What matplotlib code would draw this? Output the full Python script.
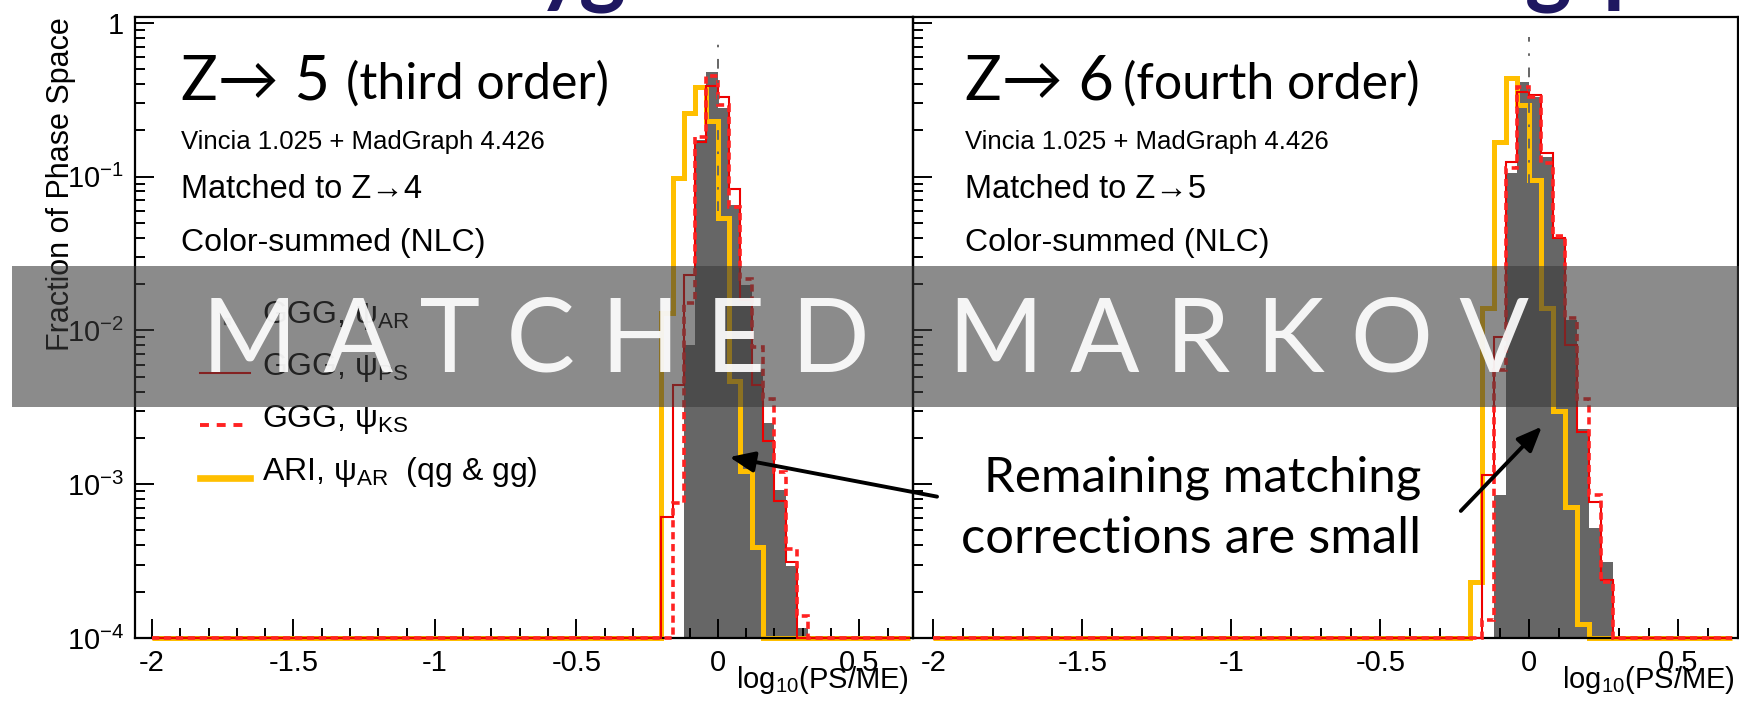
import numpy as np
import matplotlib.pyplot as plt
from matplotlib.lines import Line2D
from matplotlib.patches import Rectangle
from matplotlib.ticker import MultipleLocator, LogLocator, NullFormatter

plt.rcParams['font.family'] = ['Liberation Sans', 'DejaVu Sans']
plt.rcParams['mathtext.fontset'] = 'custom'
plt.rcParams['mathtext.rm'] = 'Liberation Sans'
plt.rcParams['mathtext.it'] = 'Liberation Sans:italic'
plt.rcParams['mathtext.default'] = 'regular'

W, H = 1739, 705

# histogram binning in log10(PS/ME)
bin_width = 0.04
hist_lo, hist_hi = -2.0, 0.68
core_lo = -0.24          # low edge of the first value in the lists below
floor = 1e-4

# Z -> 5 (third order), fraction of phase space per bin
gray_5 = [0, 0, 0, 0.0080, 0.173, 0.477, 0.278, 0.065, 0.0196, 0.0055, 0.0025, 0.00091, 0.000295, 0.000117, 0]
ps_5 = [0, 0.00061, 0.0044, 0.023, 0.169, 0.39, 0.33, 0.083, 0.0158, 0.0044, 0.0019, 0.00078, 0.00031, 0, 0]
ks_5 = [0, 0, 0.00075, 0.015, 0.18, 0.45, 0.29, 0.063, 0.0216, 0.0078, 0.0036, 0.0012, 0.00038, 0.00014, 0]
ari_5 = [0, 0.013, 0.098, 0.26, 0.38, 0.23, 0.054, 0.0047, 0.00122, 0.00039, 0, 0, 0, 0, 0]

# Z -> 6 (fourth order)
gray_6 = [0, 0, 0, 0.00085, 0.105, 0.41, 0.33, 0.134, 0.040, 0.0116, 0.0023, 0.00052, 0.00031, 0, 0]
ps_6 = [0, 0, 0.00114, 0.0091, 0.125, 0.357, 0.34, 0.143, 0.040, 0.008, 0.0022, 0.00077, 0.00024, 0, 0]
ks_6 = [0, 0, 0.00013, 0.0055, 0.114, 0.385, 0.33, 0.123, 0.041, 0.012, 0.0036, 0.00085, 0.00023, 0, 0]
ari_6 = [0, 0.00023, 0.014, 0.169, 0.44, 0.29, 0.095, 0.014, 0.0030, 0.00071, 0.000124, 0, 0, 0, 0]

x_ticks = [-2, -1.5, -1, -0.5, 0, 0.5]
x_labels = ['-2', '-1.5', '-1', '-0.5', '0', '0.5']
y_ticks = [1e-4, 1e-3, 1e-2, 1e-1, 1]
y_labels = ['$10^{-4}$', '$10^{-3}$', '$10^{-2}$', '$10^{-1}$', '1']

legend_labels = [r'GGG, $\psi_{AR}$', r'GGG, $\psi_{PS}$', r'GGG, $\psi_{KS}$', r'ARI, $\psi_{AR}$  (qg & gg)']

edges = np.round(np.arange(hist_lo, hist_hi + 1e-9, bin_width), 2)

GRAY = '#666666'
YELLOW = '#FFBF00'
RED = '#EE0000'
RED_DASH = '#FF2222'
NAVY = '#1E1760'


def fx(x):
    return x / W


def fy(y):
    return 1 - y / H


def full_hist(core):
    vals = np.zeros(len(edges) - 1)
    i0 = int(round((core_lo - hist_lo) / bin_width))
    vals[i0:i0 + len(core)] = core
    return np.where(vals > 0, vals, floor)


def draw_panel(ax, gray, ps, ks, ari, xlim, zero_bottom, labels):
    ax.stairs(full_hist(gray), edges, fill=True, baseline=floor, color=GRAY, lw=0, zorder=1)
    ax.stairs(full_hist(ari), edges, baseline=None, color=YELLOW, lw=3.6, zorder=2, clip_on=False)
    ax.stairs(full_hist(ps), edges, baseline=None, color=RED, lw=1.5, zorder=3, clip_on=False)
    ax.stairs(full_hist(ks), edges, baseline=None, color=RED_DASH, lw=2.6,
              linestyle=(0, (2.0, 1.3)), zorder=4, clip_on=False)
    ax.vlines(0, zero_bottom, 0.81, colors=GRAY, lw=1.4, linestyles=[(0, (5, 6, 1.3, 6))], zorder=5)

    ax.set_yscale('log')
    ax.set_ylim(floor, 1.09)
    ax.set_xlim(*xlim)
    ax.set_xticks(x_ticks)
    ax.set_xticklabels(x_labels)
    ax.xaxis.set_minor_locator(MultipleLocator(0.1))
    ax.set_yticks(y_ticks)
    ax.set_yticklabels(y_labels)
    ax.yaxis.set_minor_locator(LogLocator(base=10, subs=np.arange(2, 10)))
    ax.yaxis.set_minor_formatter(NullFormatter())
    ax.tick_params(which='both', direction='in', top=False, right=False, width=1.4,
                   labelsize=21, labelleft=labels)
    ax.tick_params(which='major', length=14, pad=8)
    ax.tick_params(which='minor', length=7)
    for s in ax.spines.values():
        s.set_linewidth(1.6)
    ax.patch.set_alpha(0)


fig = plt.figure(figsize=(W / 100, H / 100), dpi=100)
ax5 = fig.add_axes([fx(135), fy(638), fx(913) - fx(135), fy(17) - fy(638)])
ax6 = fig.add_axes([fx(913), fy(638), fx(1738) - fx(913), fy(17) - fy(638)])

draw_panel(ax5, gray_5, ps_5, ks_5, ari_5, (-2.06, 0.69), 0.06, True)
draw_panel(ax6, gray_6, ps_6, ks_6, ari_6, (-2.068, 0.70), 0.09, False)

# axis titles
fig.text(fx(61), fy(17), 'Fraction of Phase Space', rotation=90, ha='center', va='top', fontsize=22)
fig.text(fx(909), fy(680), r'$log_{10}(PS/ME)$', ha='right', va='center', fontsize=21)
fig.text(fx(1735), fy(680), r'$log_{10}(PS/ME)$', ha='right', va='center', fontsize=21)

# panel captions
for x0, big, small, small_x, matched in [(181, 'Z→ 5', '(third order)', 346, 'Matched to Z→4'),
                                          (965, 'Z→ 6', '(fourth order)', 1123, 'Matched to Z→5')]:
    fig.text(fx(x0), fy(99), big, fontsize=44, family=['Lato', 'DejaVu Sans'], va='baseline')
    fig.text(fx(small_x), fy(99), small, fontsize=36, family=['Lato', 'DejaVu Sans'], va='baseline')
    fig.text(fx(x0), fy(149), 'Vincia 1.025 + MadGraph 4.426', fontsize=18.5, va='baseline')
    fig.text(fx(x0), fy(198), matched, fontsize=23.5, va='baseline')
    fig.text(fx(x0), fy(251), 'Color-summed (NLC)', fontsize=23, va='baseline')

# legend
rows = [321, 373, 425, 478]
fig.add_artist(Line2D([fx(227)], [fy(rows[0])], marker='s', ms=4.5, color=GRAY, ls='none', zorder=2))
fig.add_artist(Line2D([fx(200), fx(250)], [fy(rows[1])] * 2, color=RED, lw=1.5, zorder=2))
fig.add_artist(Line2D([fx(200), fx(247)], [fy(rows[2])] * 2, color=RED_DASH, lw=2.8,
                      ls=(0, (2.3, 2.0)), zorder=2))
fig.add_artist(Line2D([fx(200), fx(250)], [fy(rows[3])] * 2, color=YELLOW, lw=4.8, zorder=2))
for r, lab in zip(rows, legend_labels):
    fig.text(fx(262), fy(r - 6), lab, fontsize=23, va='center', zorder=3)

# annotation
fig.text(fx(1203), fy(492), 'Remaining matching', fontsize=35.5, family=['Lato', 'DejaVu Sans'],
         ha='center', va='baseline')
fig.text(fx(1191), fy(553), 'corrections are small', fontsize=36.5, family=['Lato', 'DejaVu Sans'],
         ha='center', va='baseline')
arrow = dict(arrowstyle='-|>,head_length=0.6,head_width=0.25', lw=2.8, color='black',
             shrinkA=0, shrinkB=0, mutation_scale=25)
ax5.annotate('', xy=(0.041, 0.0015), xytext=(0.775, 0.00083), arrowprops=arrow,
             annotation_clip=False, zorder=6)
ax6.annotate('', xy=(0.042, 0.00237), xytext=(-0.23, 0.00067), arrowprops=arrow,
             annotation_clip=False, zorder=6)

# cut-off slide title at the very top
for x0, ch in [(560, 'y'), (602, 'g'), (1548, 'g'), (1628, 'p')]:
    fig.text(fx(x0), fy(-4), ch, fontsize=64, weight='bold', family=['Lato', 'DejaVu Sans'],
             color=NAVY, ha='center', va='baseline')

# grey banner
fig.add_artist(Rectangle((fx(12), fy(407)), 1 - fx(12), fy(266) - fy(407),
                         transform=fig.transFigure, facecolor='#3b3b3b', alpha=0.59,
                         edgecolor='none', zorder=10))
fig.text(fx(866), fy(372), 'M A T C H E D   M A R K O V', fontsize=74,
         family=['Lato', 'DejaVu Sans'], weight='normal', color='white', alpha=0.92,
         ha='center', va='baseline', zorder=11)

fig.savefig('out.png', dpi=100)
